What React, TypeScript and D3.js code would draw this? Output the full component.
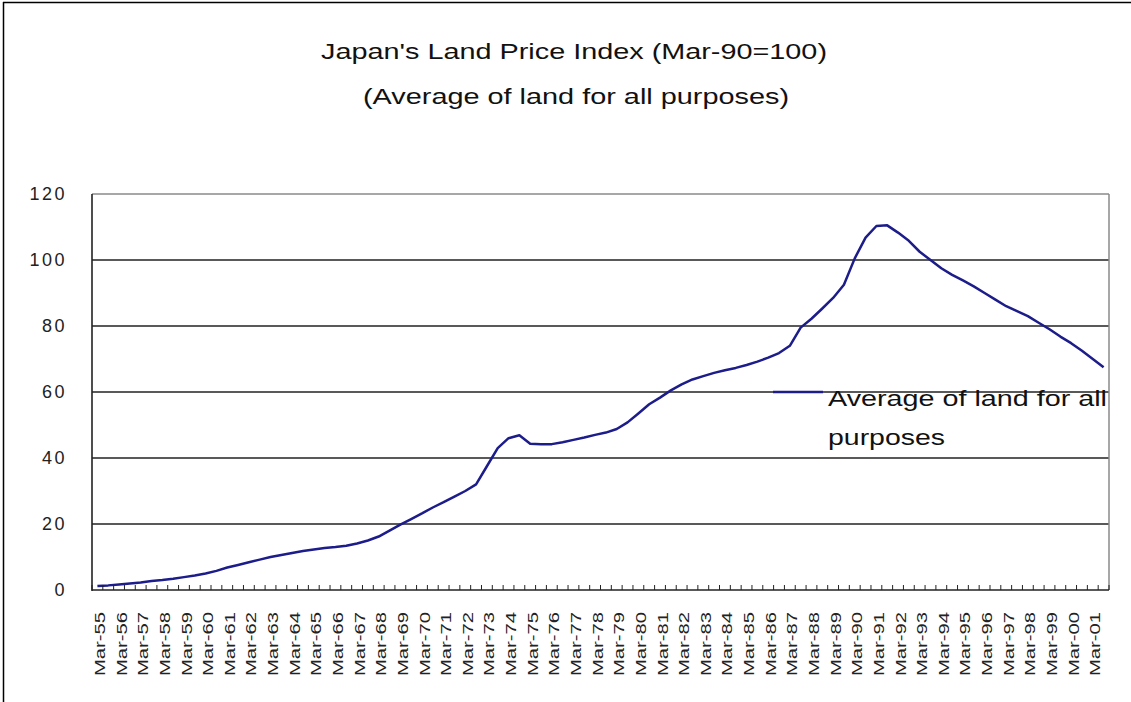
import React from "react";
import * as d3 from "d3";

const TITLE_1 = "Japan's Land Price Index (Mar-90=100)";
const TITLE_2 = "(Average of land for all purposes)";
const SERIES_NAME_1 = "Average of land for all";
const SERIES_NAME_2 = "purposes";

// Tick labels, one for every second (semi-annual) period: Mar-55 ... Mar-01
const TICK_LABELS = [
  "Mar-55", "Mar-56", "Mar-57", "Mar-58", "Mar-59", "Mar-60", "Mar-61", "Mar-62",
  "Mar-63", "Mar-64", "Mar-65", "Mar-66", "Mar-67", "Mar-68", "Mar-69", "Mar-70",
  "Mar-71", "Mar-72", "Mar-73", "Mar-74", "Mar-75", "Mar-76", "Mar-77", "Mar-78",
  "Mar-79", "Mar-80", "Mar-81", "Mar-82", "Mar-83", "Mar-84", "Mar-85", "Mar-86",
  "Mar-87", "Mar-88", "Mar-89", "Mar-90", "Mar-91", "Mar-92", "Mar-93", "Mar-94",
  "Mar-95", "Mar-96", "Mar-97", "Mar-98", "Mar-99", "Mar-00", "Mar-01",
];

// Semi-annual index values (Mar / Sep), Mar-55 .. Sep-01
const VALUES = [
  1.2, 1.4, 1.7, 2.0, 2.3, 2.7, 3.0, 3.4, 3.9, 4.4,
  5.0, 5.8, 6.8, 7.6, 8.4, 9.2, 10.0, 10.6, 11.2, 11.8,
  12.3, 12.7, 13.0, 13.4, 14.1, 15.0, 16.2, 18.0, 19.8, 21.5,
  23.2, 25.0, 26.6, 28.3, 30.0, 32.0, 37.5, 43.0, 46.0, 46.9,
  44.3, 44.2, 44.2, 44.8, 45.5, 46.2, 47.0, 47.7, 48.8, 50.8,
  53.5, 56.3, 58.3, 60.5, 62.3, 63.8, 64.8, 65.8, 66.6, 67.3,
  68.2, 69.2, 70.4, 71.8, 74.0, 79.5, 82.2, 85.3, 88.5, 92.5,
  100.5, 106.8, 110.3, 110.5, 108.3, 105.8, 102.5, 100.0, 97.5, 95.5,
  93.8, 92.0, 90.0, 88.0, 86.0, 84.5, 83.0, 81.0, 79.0, 76.8,
  74.8, 72.5, 70.0, 67.5,
];

const Y_TICKS = [0, 20, 40, 60, 80, 100, 120];

const W = 1131;
const H = 702;
const PLOT = { left: 92, right: 1109, top: 194, bottom: 590 };
const LINE_COLOR = "#1c1c8a";

export default function App() {
  const x = d3
    .scaleBand<number>()
    .domain(d3.range(VALUES.length))
    .range([PLOT.left, PLOT.right])
    .paddingInner(0)
    .paddingOuter(0);
  const bw = x.bandwidth();
  const cx = (i: number) => (x(i) as number) + bw / 2;
  const y = d3.scaleLinear().domain([0, 120]).range([PLOT.bottom, PLOT.top]);

  const line = d3
    .line<number>()
    .x((_, i) => cx(i))
    .y((d) => y(d));

  const boundaries = d3.range(VALUES.length + 1).map((i) => PLOT.left + i * bw);

  return (
    <svg
      width={W}
      height={H}
      style={{ position: "absolute", left: 0, top: 0, background: "#fff" }}
      fontFamily="'Liberation Sans', Arial, sans-serif"
    >
      <rect x={0} y={0} width={W} height={H} fill="#fff" />
      {/* outer frame */}
      <line x1={3} y1={2.5} x2={W} y2={2.5} stroke="#000" strokeWidth={1.5} />
      <line x1={3.5} y1={2} x2={3.5} y2={H} stroke="#000" strokeWidth={1.5} />

      {/* title */}
      <text
        x={574}
        y={59}
        textAnchor="middle"
        fontSize={22}
        fill="#111"
        textLength={506}
        lengthAdjust="spacingAndGlyphs"
      >
        {TITLE_1}
      </text>
      <text
        x={576}
        y={104}
        textAnchor="middle"
        fontSize={22}
        fill="#111"
        textLength={426}
        lengthAdjust="spacingAndGlyphs"
      >
        {TITLE_2}
      </text>

      {/* gridlines */}
      {Y_TICKS.filter((t) => t > 0 && t < 120).map((t) => (
        <line
          key={"g" + t}
          x1={PLOT.left}
          x2={PLOT.right}
          y1={y(t)}
          y2={y(t)}
          stroke="#222"
          strokeWidth={1.3}
        />
      ))}
      {/* plot frame top & right */}
      <line x1={PLOT.left} x2={PLOT.right} y1={PLOT.top} y2={PLOT.top} stroke="#8a8a8a" strokeWidth={1.5} />
      <line x1={PLOT.right} x2={PLOT.right} y1={PLOT.top} y2={PLOT.bottom} stroke="#8a8a8a" strokeWidth={1.5} />

      {/* y tick labels */}
      {Y_TICKS.map((t) => (
        <text
          key={"yl" + t}
          x={67}
          y={y(t)}
          dy="0.36em"
          textAnchor="end"
          fontSize={18}
          letterSpacing={2.5}
          fill="#222"
        >
          {t}
        </text>
      ))}

      {/* data line */}
      <path d={line(VALUES) || ""} fill="none" stroke={LINE_COLOR} strokeWidth={2.5} strokeLinejoin="round" />

      {/* axes */}
      <line x1={PLOT.left} x2={PLOT.left} y1={PLOT.top} y2={PLOT.bottom + 1} stroke="#222" strokeWidth={1.6} />
      <line x1={PLOT.left} x2={PLOT.right} y1={PLOT.bottom} y2={PLOT.bottom} stroke="#222" strokeWidth={1.6} />
      {boundaries.map((bx, i) => (
        <line key={"t" + i} x1={bx} x2={bx} y1={PLOT.bottom} y2={PLOT.bottom - 5} stroke="#222" strokeWidth={1} />
      ))}

      {/* x tick labels */}
      {TICK_LABELS.map((lab, k) => {
        const px = cx(k * 2) + 2.5;
        const py = 612;
        return (
          <text
            key={lab}
            transform={`translate(${px},${py}) rotate(-90)`}
            textAnchor="end"
            dy="0.36em"
            fontSize={14}
            fill="#222"
            textLength={64}
            lengthAdjust="spacingAndGlyphs"
          >
            {lab}
          </text>
        );
      })}

      {/* legend */}
      <line x1={773} x2={823} y1={392} y2={392} stroke={LINE_COLOR} strokeWidth={2.5} />
      <text x={828} y={406} fontSize={22} fill="#111" textLength={279} lengthAdjust="spacingAndGlyphs">
        {SERIES_NAME_1}
      </text>
      <text x={828} y={445} fontSize={22} fill="#111" textLength={117} lengthAdjust="spacingAndGlyphs">
        {SERIES_NAME_2}
      </text>
    </svg>
  );
}
